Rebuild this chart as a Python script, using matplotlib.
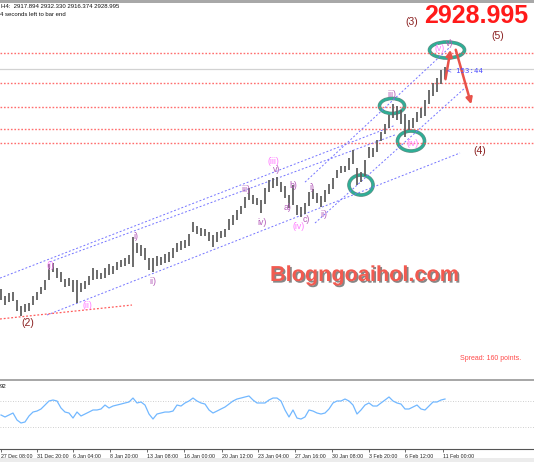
import matplotlib
matplotlib.use("Agg")
import matplotlib.pyplot as plt
import matplotlib.patheffects as pe
from matplotlib.patches import Ellipse, Rectangle

W, H = 534, 462

# XAUUSD H4 bars, index 0 = 27 Dec 08:00
highs = [2631, 2622, 2626, 2627, 2616, 2608, 2611, 2612, 2622, 2627,
         2634, 2643, 2665, 2666, 2660, 2654, 2645, 2646, 2643, 2643,
         2639, 2642, 2649, 2660, 2657, 2653, 2660, 2665, 2662, 2668,
         2670, 2673, 2677, 2702, 2694, 2691, 2687, 2673, 2673, 2676,
         2675, 2679, 2681, 2687, 2694, 2696, 2698, 2706, 2722, 2717,
         2714, 2712, 2708, 2704, 2708, 2710, 2712, 2726, 2731, 2738,
         2744, 2756, 2768, 2759, 2755, 2752, 2768, 2779, 2782, 2783,
         2776, 2771, 2759, 2772, 2745, 2742, 2748, 2763, 2767, 2761,
         2757, 2765, 2773, 2782, 2792, 2798, 2798, 2809, 2820, 2795,
         2790, 2806, 2824, 2822, 2833, 2844, 2855, 2867, 2882, 2879,
         2874, 2868, 2860, 2863, 2871, 2876, 2887, 2901, 2910, 2917,
         2928, 2932.33]
lows = [2616, 2610, 2614, 2615, 2601, 2595, 2600, 2601, 2610, 2616,
        2624, 2630, 2643, 2654, 2646, 2641, 2634, 2635, 2627, 2612,
        2627, 2631, 2637, 2643, 2645, 2645, 2646, 2650, 2652, 2657,
        2661, 2662, 2665, 2661, 2680, 2676, 2670, 2657, 2654, 2662,
        2664, 2666, 2668, 2673, 2681, 2684, 2687, 2689, 2708, 2706,
        2703, 2703, 2696, 2688, 2695, 2700, 2702, 2711, 2718, 2725,
        2733, 2741, 2752, 2746, 2745, 2734, 2746, 2763, 2768, 2771,
        2763, 2755, 2741, 2745, 2731, 2729, 2733, 2744, 2753, 2748,
        2742, 2749, 2760, 2767, 2782, 2788, 2790, 2792, 2801, 2772,
        2776, 2784, 2809, 2810, 2817, 2832, 2841, 2849, 2863, 2860,
        2855, 2837, 2847, 2849, 2857, 2863, 2866, 2882, 2893, 2898,
        2909, 2916.37]

# oscillator in the lower window
rsi = [48.5, 45.5, 48.5, 51.5, 40.9, 36.4, 37.9, 47.0, 53.0, 54.5,
       57.6, 63.6, 69.7, 71.2, 69.7, 59.1, 53.0, 51.5, 43.9, 53.0,
       47.0, 50.0, 53.0, 56.1, 56.1, 57.6, 63.6, 59.1, 62.1, 63.6,
       65.1, 66.7, 68.2, 74.2, 66.7, 68.2, 63.6, 50.0, 42.4, 50.0,
       51.5, 53.0, 53.0, 54.5, 63.6, 62.1, 66.7, 69.7, 74.2, 69.7,
       66.7, 65.1, 56.1, 51.5, 54.5, 57.6, 60.6, 65.1, 69.7, 72.7,
       74.2, 75.8, 77.3, 71.2, 66.7, 66.7, 66.7, 71.2, 74.2, 74.2,
       69.7, 56.1, 45.5, 56.1, 43.9, 42.4, 45.5, 56.1, 54.5, 51.5,
       50.0, 51.5, 57.6, 66.7, 69.7, 69.7, 72.7, 69.7, 63.6, 50.0,
       56.1, 63.6, 66.7, 62.1, 62.1, 66.7, 71.2, 75.8, 69.7, 66.7,
       65.1, 57.6, 57.6, 60.6, 63.6, 57.6, 56.1, 62.1, 68.2, 68.2,
       71.2, 72.7]
rsi_levels = [70, 30]

tick_pos = [0, 9, 18, 27.25, 36.5, 45.75, 55.25, 64.25, 73.5, 82.75, 92, 101, 110.5]
tick_labels = ["27 Dec 08:00", "31 Dec 20:00", "6 Jan 04:00", "8 Jan 20:00",
               "13 Jan 08:00", "16 Jan 00:00", "20 Jan 12:00", "23 Jan 04:00",
               "27 Jan 16:00", "30 Jan 08:00", "3 Feb 20:00", "6 Feb 12:00",
               "11 Feb 00:00"]

red_levels = [2951.0, 2910.5, 2878.0, 2848.0, 2829.0]
last_price = 2928.995

# trend lines: (bar index, price) anchors
channel_lines = [
    [(-0.25, 2646), (98.5, 2853)],
    [(12.25, 2668), (98.5, 2840)],
    [(11.5, 2596), (114.75, 2815.5)],
    [(78.5, 2720.6), (116.25, 2904.9)],
    [(76, 2776), (112.25, 2959)],
]
support_line = [(-0.25, 2590.6), (32.75, 2609.5)]

# (bar index, price, width in bars, height in price)
circles = [(111.5, 2955, 8.75, 21.7), (97.75, 2879.2, 6.25, 20.3),
           (102.5, 2831.7, 6.75, 27.1), (90, 2772.1, 6, 27.1)]

arrows = [((111, 2911.7), (112.5, 2959)), ((113.5, 2959), (117.75, 2877.8))]

major_labels = [("(2)", 6.75, 2585), ("(3)", 102.75, 2993),
                ("(4)", 119.75, 2818.2), ("(5)", 124.25, 2974)]
pink_labels = [("(i)", 12.25, 2663.7), ("(ii)", 21.5, 2608.2), ("(iii)", 68, 2803.3),
               ("(iv)", 74.5, 2716.5), ("(iv)", 103, 2829), ("(v)", 109.75, 2956.4)]
purple_labels = [("i)", 33.75, 2701.7), ("ii)", 38, 2642), ("iii)", 61.25, 2765.4),
                 ("iv)", 65.25, 2722), ("v)", 69, 2792.5), ("a)", 71.75, 2741),
                 ("b)", 73, 2772.1), ("c)", 76.25, 2725.5), ("i)", 77.75, 2769.4),
                 ("ii)", 80.75, 2732.8), ("iii)", 97.75, 2894.1), ("v)", 112.25, 2963.2)]

FONT = "Liberation Sans"


def fig_xy(px, py):
    return px / W, 1 - py / H


def main():
    fig = plt.figure(figsize=(W / 100, H / 100), dpi=100)
    fig.patch.set_facecolor("white")

    ax = fig.add_axes([0, 83 / H, 1, 376 / H])
    sub = fig.add_axes([0, 13 / H, 1, 68 / H])

    xlim = (-0.25, 133.25)
    for a in (ax, sub):
        a.set_xlim(*xlim)
        for s in a.spines.values():
            s.set_visible(False)
        a.set_facecolor("white")
    ax.set_ylim(2509.3, 3018.7)
    ax.set_xticks([])
    ax.set_yticks([])

    # levels
    for lvl in red_levels:
        ax.axhline(lvl, color="#ff4a4a", lw=1.0, ls=(0, (1.2, 1.3)), alpha=0.8)
    ax.axhline(last_price, color="#d2d2d2", lw=0.9)

    # channels
    for (x0, y0), (x1, y1) in channel_lines:
        ax.plot([x0, x1], [y0, y1], color="#7474ff", lw=0.7, ls=(0, (2, 2)))
    (x0, y0), (x1, y1) = support_line
    ax.plot([x0, x1], [y0, y1], color="#ff5c5c", lw=0.9, ls=(0, (1.5, 1.5)))

    # bars
    idx = list(range(len(highs)))
    ax.vlines(idx, lows, highs, color="#606060", lw=1.3)

    for cx, cy, w, h in circles:
        ax.add_patch(Ellipse((cx, cy), w, h, fill=False, edgecolor="#2fae96", lw=1.8,
                             path_effects=[pe.Stroke(linewidth=2.6, foreground="#6a8a84"), pe.Normal()]))

    for start, end in arrows:
        ax.annotate("", xy=end, xytext=start,
                    arrowprops=dict(arrowstyle="-|>", color="#e8524a", lw=1.8, mutation_scale=9))

    for txt, x, y in major_labels:
        ax.text(x, y, txt, color="#8b2020", fontsize=7.5, family=FONT, ha="center", va="center")
    for txt, x, y in pink_labels:
        ax.text(x, y, txt, color="#ff7cff", fontsize=6.3, family=FONT, ha="center", va="center")
    for txt, x, y in purple_labels:
        ax.text(x, y, txt, color="#b25ab8", fontsize=6.3, family=FONT, ha="center", va="center")

    ax.text(111.5, last_price - 2, "< 153:44", color="#4a4aff", fontsize=5.3,
            family="DejaVu Sans Mono", ha="left", va="center")

    # lower window
    sub.set_ylim(-3, 100)
    for lvl in rsi_levels:
        sub.axhline(lvl, color="#c0c0c0", lw=0.6, ls=(0, (1, 2)))
    sub.plot(idx, rsi, color="#72b8ff", lw=0.9)
    sub.spines["bottom"].set_visible(True)
    sub.spines["bottom"].set_color("#555555")
    sub.spines["bottom"].set_linewidth(0.8)
    sub.set_yticks([])
    sub.set_xticks(tick_pos)
    sub.set_xticklabels(tick_labels, ha="left", fontsize=3.8, family=FONT, color="#222222")
    sub.tick_params(axis="x", length=2.5, width=0.6, color="#555555", pad=1)

    # window furniture
    fig.patches.append(Rectangle((0, 1 - 3 / H), 1, 3 / H, transform=fig.transFigure,
                                 facecolor="#a8a8a8", edgecolor="none"))
    fig.patches.append(Rectangle((0, 1 - 381 / H), 1, 2.5 / H, transform=fig.transFigure,
                                 facecolor="#a8a8a8", edgecolor="none"))
    fig.patches.append(Rectangle((0, 0), 1, 4.5 / H, transform=fig.transFigure,
                                 facecolor="#ececec", edgecolor="none"))

    fig.text(*fig_xy(1, 7), "H4:  2917.894 2932.330 2916.374 2928.995", fontsize=4.3,
             family=FONT, color="#111111", va="center")
    fig.text(*fig_xy(0, 14), "4 seconds left to bar end", fontsize=4.3,
             family=FONT, color="#111111", va="center")
    fig.text(*fig_xy(0, 386), "92", fontsize=4.3, family=FONT, color="#111111", va="center")

    fig.text(*fig_xy(424, 16), "2928.995", fontsize=18, family=FONT, weight="bold",
             color="#ff1a1a", va="center", ha="left")

    fig.text(*fig_xy(270, 281), "Blogngoaihol.com", fontsize=15.6, family=FONT,
             weight="bold", color="#f25a50", va="baseline", ha="left",
             path_effects=[pe.withSimplePatchShadow(offset=(1.2, -1.2), shadow_rgbFace="#555555", alpha=0.7)])

    fig.text(*fig_xy(460, 358), "Spread: 160 points.", fontsize=5, family=FONT,
             color="#ff4a4a", va="center", ha="left")

    fig.savefig("out.png", dpi=100)


if __name__ == "__main__":
    main()
